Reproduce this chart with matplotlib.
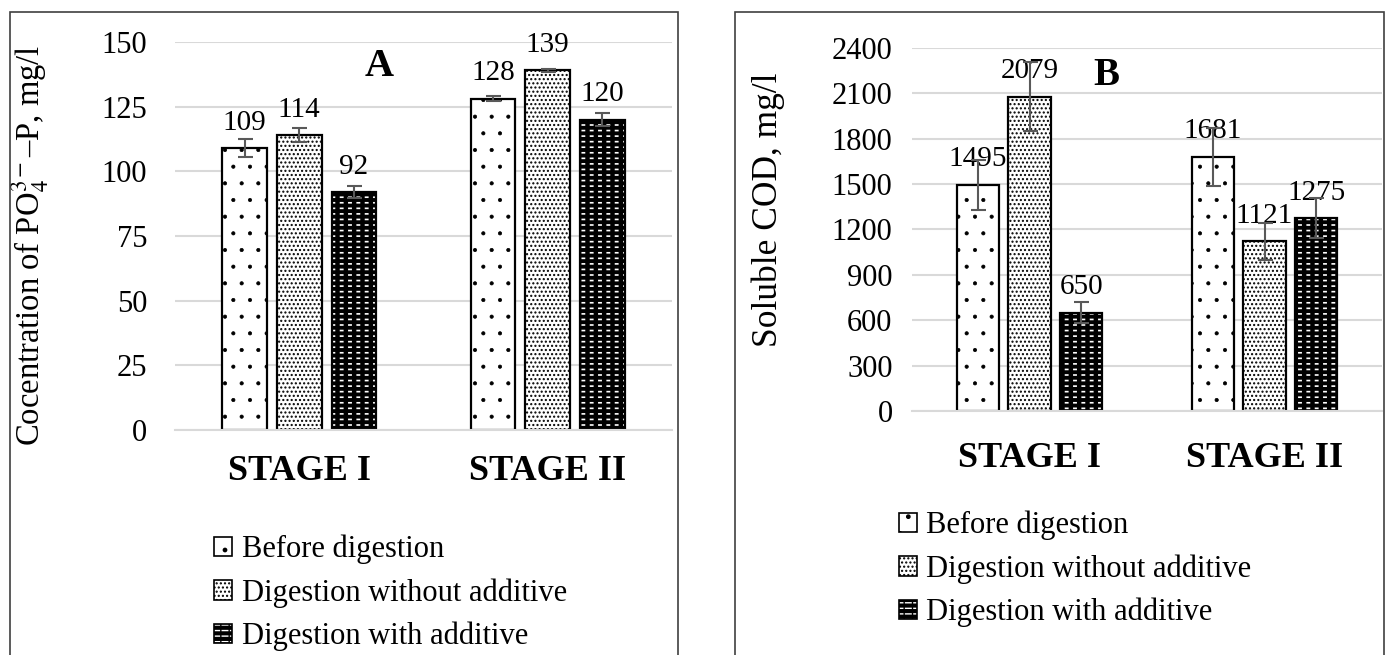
import matplotlib
matplotlib.use("Agg")
import matplotlib.pyplot as plt
from matplotlib.patches import Patch, Rectangle
from matplotlib.legend_handler import HandlerTuple
import numpy as np

plt.rcParams['font.family'] = ['Liberation Serif', 'DejaVu Serif']
plt.rcParams['mathtext.fontset'] = 'stix'
plt.rcParams['hatch.linewidth'] = 1.0

# data
stages = ["STAGE I", "STAGE II"]
series = ["Before digestion", "Digestion without additive", "Digestion with additive"]

po4_before = [109, 128]
po4_without = [114, 139]
po4_with = [92, 120]
po4_err_before = [3.5, 1.0]
po4_err_without = [2.7, 0.5]
po4_err_with = [2.3, 2.5]

cod_before = [1495, 1681]
cod_without = [2079, 1121]
cod_with = [650, 1275]
cod_err_before = [165, 193]
cod_err_without = [228, 122]
cod_err_with = [70, 133]

W, H = 1388, 655
fig = plt.figure(figsize=(W / 100, H / 100), dpi=100)

# panel frames
for x0, x1 in [(10, 678), (735, 1384)]:
    fig.add_artist(Rectangle((x0 / W, -0.05), (x1 - x0) / W, (H - 12) / H + 0.05,
                             transform=fig.transFigure, fill=False,
                             edgecolor='#404040', lw=1.2))

ax1 = fig.add_axes([175 / W, 1 - 430 / H, 497 / W, (430 - 42) / H])
ax2 = fig.add_axes([912 / W, 1 - 411 / H, 470 / W, (411 - 48) / H])

bw = 0.18
step = 0.22
x = np.arange(len(stages))


def hlw(p, lw):
    # per-patch hatch width if this matplotlib has it
    if hasattr(p, 'set_hatch_linewidth'):
        p.set_hatch_linewidth(lw)
    return p


def draw_bars(ax, vals, errs):
    handles = []
    for j, (v, e) in enumerate(zip(vals, errs)):
        pos = x + (j - 1) * step
        if j == 0:
            bb = ax.bar(pos, v, bw, facecolor='white', edgecolor='black', hatch='.', lw=1.6, zorder=3)
            for p in bb:
                hlw(p, 0.5)
            h = hlw(Patch(facecolor='white', edgecolor='black', hatch='.', lw=1.2), 0.5)
        elif j == 1:
            ax.bar(pos, v, bw, facecolor='white', edgecolor='black', hatch='....', lw=1.6, zorder=3)
            h = Patch(facecolor='white', edgecolor='black', hatch='....', lw=1.2)
        else:
            b1 = ax.bar(pos, v, bw, facecolor='black', edgecolor='white', hatch='---', lw=0, zorder=3)
            b2 = ax.bar(pos, v, bw, fill=False, edgecolor='black', hatch='||', lw=0, zorder=3)
            for p in b1:
                hlw(p, 1.2)
            for p in b2:
                hlw(p, 3.2)
            ax.bar(pos, v, bw, fill=False, edgecolor='black', lw=1.6, zorder=3)
            h = (hlw(Patch(facecolor='black', edgecolor='white', hatch='---', lw=0), 1.2),
                 hlw(Patch(fill=False, edgecolor='black', hatch='||', lw=1.2), 3.2))
        ax.errorbar(pos, v, yerr=e, fmt='none', ecolor='#595959', elinewidth=1.5,
                    capsize=5.4, capthick=1.5, zorder=4)
        for p, val in zip(pos, v):
            ax.annotate(str(val), (p, val), xytext=(0, 9), textcoords='offset points',
                        ha='center', va='bottom', fontsize=21)
        handles.append(h)
    return handles


h1 = draw_bars(ax1, [po4_before, po4_without, po4_with],
               [po4_err_before, po4_err_without, po4_err_with])
h2 = draw_bars(ax2, [cod_before, cod_without, cod_with],
               [cod_err_before, cod_err_without, cod_err_with])

for ax in (ax1, ax2):
    ax.set_xlim(-0.5, 1.5)
    ax.set_xticks(x)
    ax.set_xticklabels(stages, fontsize=26, fontweight='bold')
    ax.tick_params(axis='both', length=0)
    ax.tick_params(axis='y', labelsize=22)
    ax.grid(axis='y', color='#d9d9d9', lw=1.5, zorder=0)
    ax.set_axisbelow(True)
    for s in ['top', 'right', 'left']:
        ax.spines[s].set_visible(False)
    ax.spines['bottom'].set_color('#d9d9d9')
    ax.spines['bottom'].set_linewidth(1.5)
    ax.spines['bottom'].set_zorder(5)

ax1.set_ylim(0, 150)
ax1.set_yticks(np.arange(0, 151, 25))
ax1.tick_params(axis='y', pad=20)
ax1.tick_params(axis='x', pad=18)
ax1.set_ylabel("Cocentration of PO$_4^{3-}$–P, mg/l", fontsize=23.5)
ax1.yaxis.set_label_coords(-0.25, 0.477)
ax1.text(0.41, 0.985, "A", transform=ax1.transAxes, fontsize=29, fontweight='bold',
         ha='center', va='top')

ax2.set_ylim(0, 2400)
ax2.set_yticks(np.arange(0, 2401, 300))
ax2.tick_params(axis='y', pad=14)
ax2.tick_params(axis='x', pad=22)
ax2.set_ylabel("Soluble COD, mg/l", fontsize=25.5)
ax2.yaxis.set_label_coords(-0.27, 0.554)
ax2.text(0.413, 0.975, "B", transform=ax2.transAxes, fontsize=28, fontweight='bold',
         ha='center', va='top')

leg_kw = dict(handler_map={tuple: HandlerTuple(ndivide=1)}, frameon=False, fontsize=22,
              handlelength=0.6, handleheight=0.6, handletextpad=0.3, labelspacing=0.45,
              borderpad=0, borderaxespad=0, loc='upper left')
fig.legend(h1, series, bbox_to_anchor=(214 / W, 1 - 535 / H), **leg_kw)
fig.legend(h2, series, bbox_to_anchor=(899 / W, 1 - 511 / H), **leg_kw)

fig.savefig("out.png", dpi=100)
